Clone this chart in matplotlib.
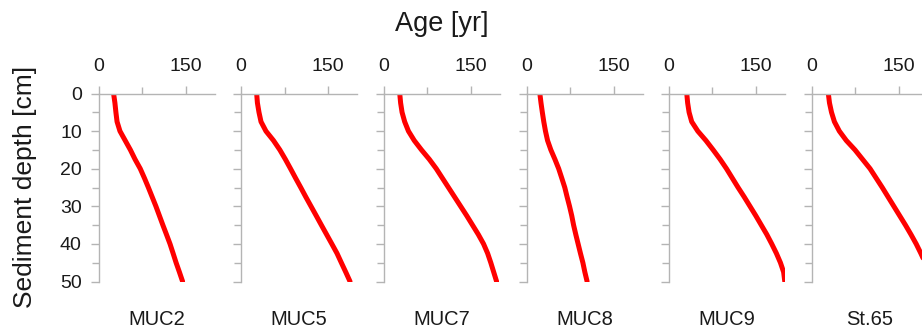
import matplotlib
matplotlib.use("Agg")
import matplotlib.pyplot as plt
from matplotlib.ticker import MultipleLocator

plt.rcParams['font.family'] = ['Liberation Sans', 'DejaVu Sans']

# Sediment depth (cm) at which ages were read, per core
depth = [0, 2.5, 5, 7.5, 10, 12.5, 15, 17.5, 20, 22.5, 25,
         27.5, 30, 32.5, 35, 37.5, 40, 42.5, 45, 47.5, 50]

cores = ["MUC2", "MUC5", "MUC7", "MUC8", "MUC9", "St.65"]

age_muc2 = [26, 28.3, 30, 32, 37, 46, 55, 63, 72, 79.2, 86,
            92.5, 99, 105, 111, 117.2, 123.3, 128.6, 133.8, 139.5, 145]
age_muc5 = [27, 28.3, 31, 34.5, 43, 56, 67, 76.5, 85.4, 94.1, 103,
            111.7, 120.7, 129.7, 138.6, 147.6, 156.6, 165.5, 173, 180.6, 188]
age_muc7 = [28, 29.5, 32, 36.5, 43, 53, 65.5, 79, 91, 101.5, 112,
            122.5, 133, 143.5, 153.5, 163.5, 172.5, 179.5, 185, 190, 195]
age_muc8 = [23, 25, 27.3, 29.8, 32.7, 36.3, 42, 49, 55.5, 60.8, 66,
            70, 74.2, 78, 81.2, 85, 89, 93, 97.2, 100.6, 104.5]
age_muc9 = [31.5, 33, 35.5, 40, 50.5, 64.5, 77, 89, 100, 110, 120,
            130.5, 140.5, 150.5, 160, 169.5, 178, 186, 193, 198.5, 200.5]
age_st65 = [29, 31, 34.5, 39.5, 48, 60, 75, 88, 101, 111.5, 122,
            132, 142, 152, 162, 171.5, 180.5, 188.5, 196, 203, 210]

ages = [age_muc2, age_muc5, age_muc7, age_muc8, age_muc9, age_st65]

age_ticks = [0, 150]
depth_ticks = [0, 10, 20, 30, 40, 50]

W, H = 922, 336
fig = plt.figure(figsize=(W / 100, H / 100), dpi=100)

axis_grey = "#b4b4b4"
text_col = "#1a1a1a"

lefts = [98.5, 241, 383.5, 526.5, 668.5, 811.5]
ax_w = 116
ax_top = 93.5
ax_bot = 281.5

for i, (name, age) in enumerate(zip(cores, ages)):
    ax = fig.add_axes([lefts[i] / W, (H - ax_bot) / H, ax_w / W, (ax_bot - ax_top) / H])
    ax.plot(age, depth, color="#ff0000", lw=3.6,
            solid_capstyle="round", solid_joinstyle="round")
    ax.set_xlim(0, 200)
    ax.set_ylim(50, 0)
    for s in ("right", "bottom"):
        ax.spines[s].set_visible(False)
    for s in ("left", "top"):
        ax.spines[s].set_color(axis_grey)
        ax.spines[s].set_linewidth(1.0)
    ax.xaxis.tick_top()
    ax.set_xticks(age_ticks)
    ax.xaxis.set_minor_locator(MultipleLocator(75))
    ax.set_yticks(depth_ticks)
    ax.yaxis.set_minor_locator(MultipleLocator(5))
    ax.tick_params(axis="both", which="both", direction="out", color=axis_grey,
                   width=1.0, labelcolor=text_col, labelsize=14)
    ax.tick_params(axis="both", which="major", length=6)
    ax.tick_params(axis="both", which="minor", length=5)
    ax.tick_params(axis="x", which="major", pad=7)
    ax.tick_params(axis="y", which="major", pad=6)
    if i > 0:
        ax.tick_params(axis="y", labelleft=False)
    ax.patch.set_visible(False)
    fig.text((lefts[i] + ax_w / 2) / W, (H - 325) / H, name, ha="center",
             va="baseline", fontsize=14.5, color=text_col)

fig.text(442 / W, (H - 31) / H, "Age [yr]", ha="center", va="baseline",
         fontsize=19.5, color=text_col)
fig.text(25 / W, (H - 187) / H, "Sediment depth [cm]", rotation=90, ha="center",
         va="center", fontsize=19, color=text_col)

fig.savefig("out.png", dpi=100, facecolor="white")
